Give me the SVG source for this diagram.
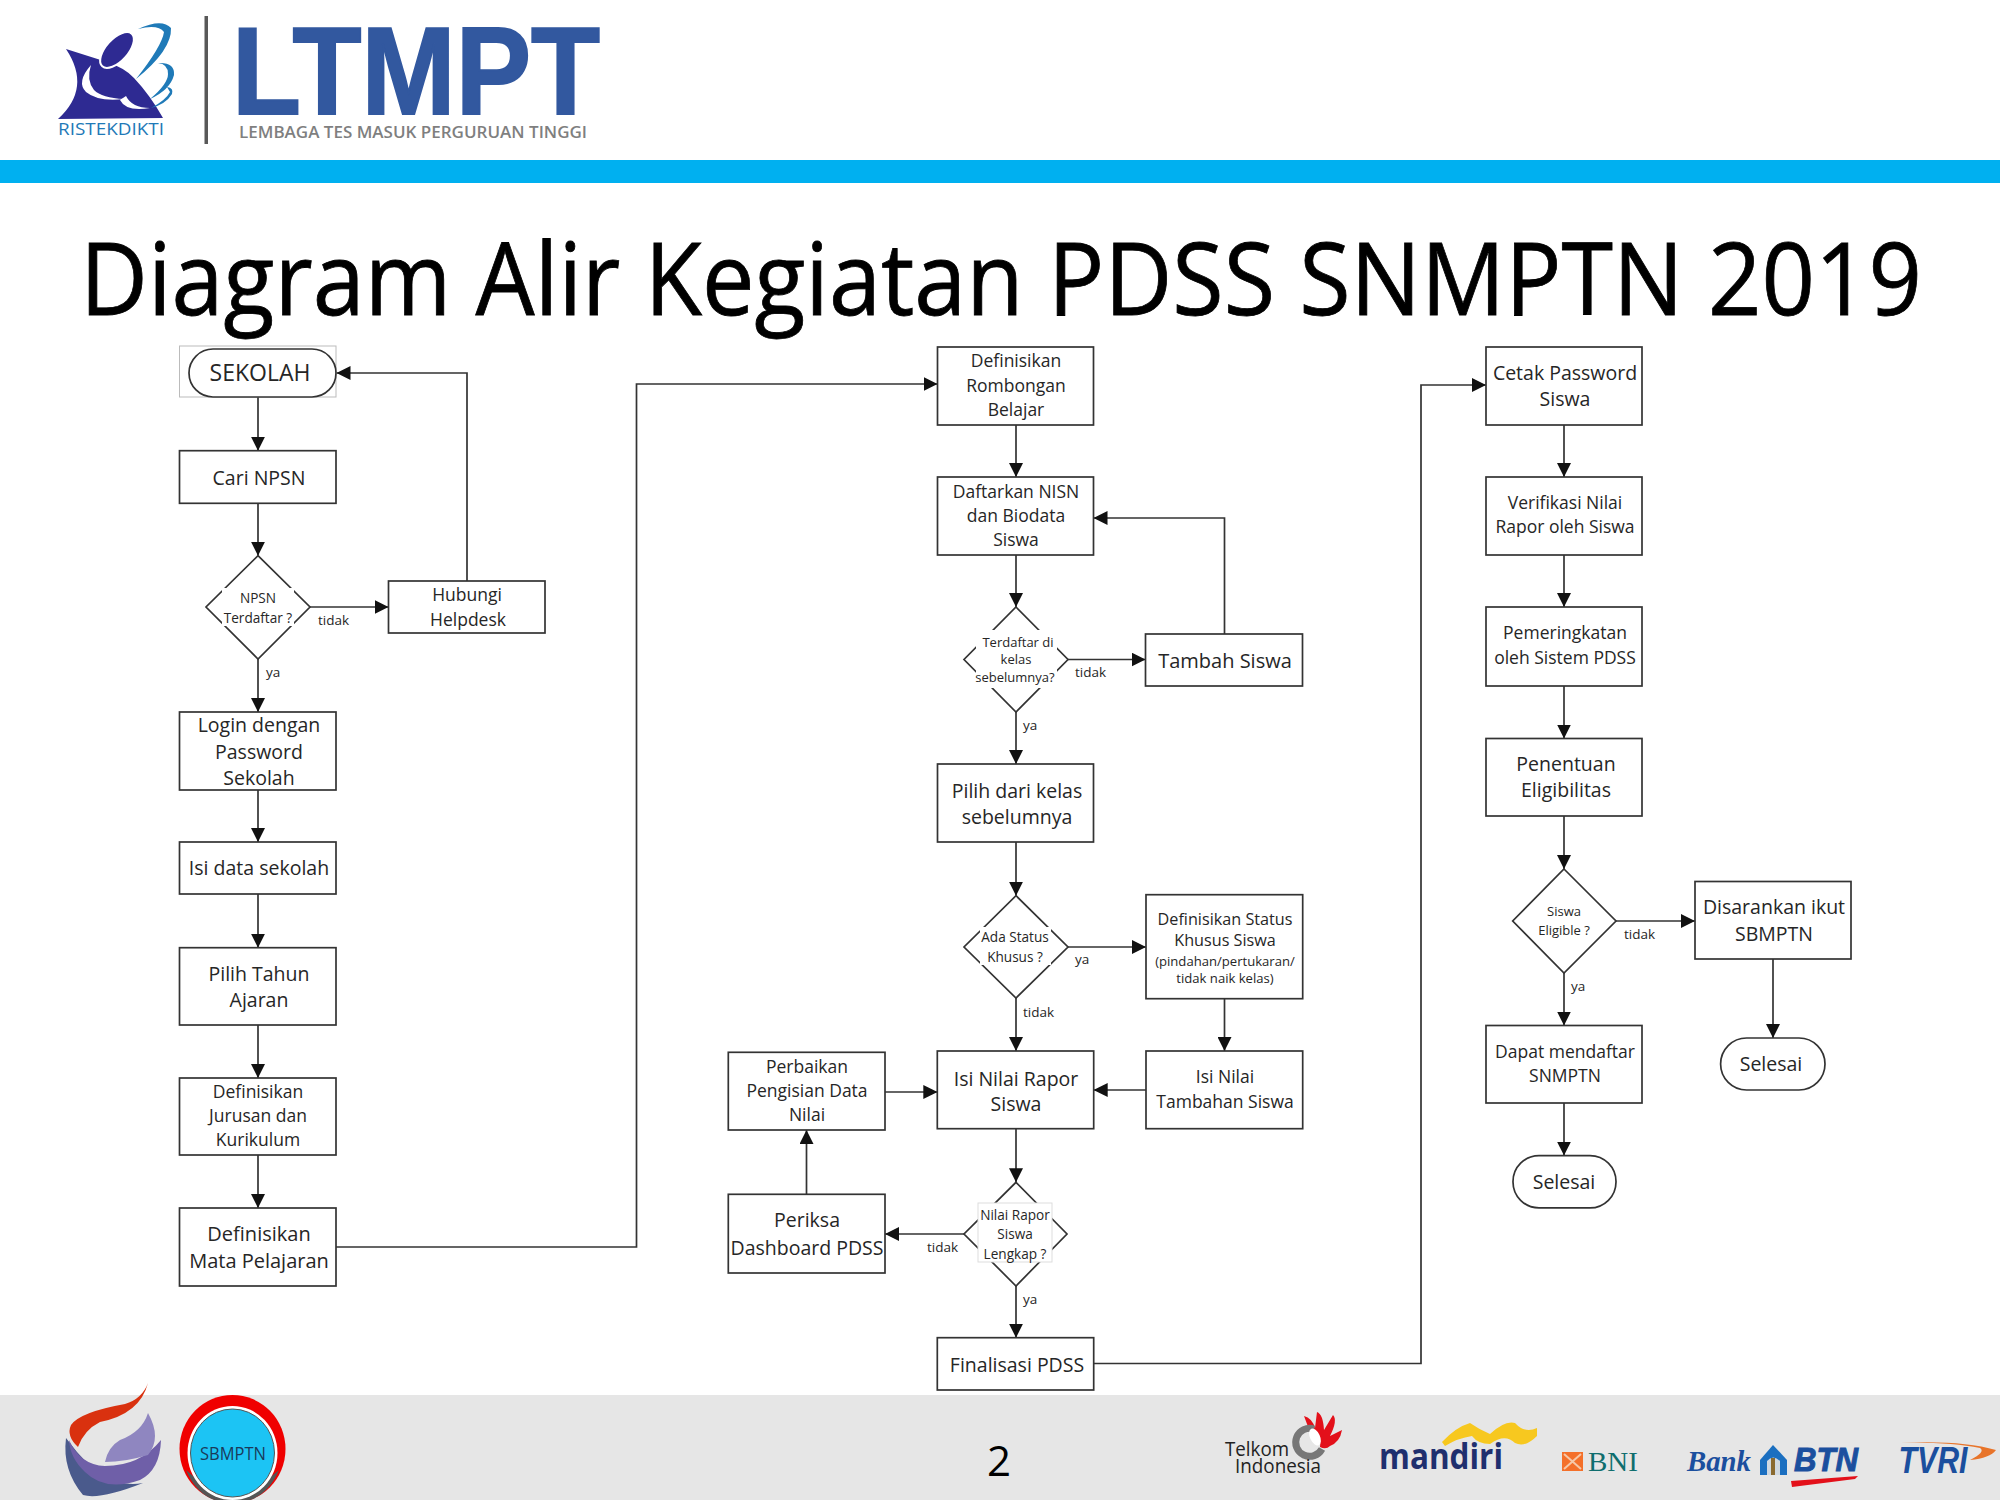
<svg xmlns="http://www.w3.org/2000/svg" width="2000" height="1500" viewBox="0 0 2000 1500">
<style>
text{font-family:"Open Sans","Lato",sans-serif;fill:#262626;text-anchor:middle;font-variant-ligatures:none}
.s{fill:#fff;stroke:#333;stroke-width:1.7}
.c{fill:none;stroke:#333;stroke-width:1.7;marker-end:url(#a)}
.w{fill:#fff}
.f24{font-size:23px}.f22{font-size:20px}.f21{font-size:19.5px}.f19{font-size:17.5px}.f17{font-size:16.2px}.f16{font-size:13.1px}.f15{font-size:13.6px}.f14{font-size:13px}
.l{font-size:13.500px;text-anchor:start}
</style>
<defs><marker id="a" markerUnits="userSpaceOnUse" markerWidth="14" markerHeight="14" refX="14" refY="7" orient="auto"><path d="M0,0L14,7L0,14z" fill="#111"/></marker></defs>
<rect width="2000" height="1500" fill="#fff"/>
<g id="header">
<path d="M66,49L107,62Q125,68 134,78Q150,95 163,118L58,119Q92,88 66,49z" fill="#2e2a92"/>
<ellipse cx="117" cy="50" rx="11" ry="22" transform="rotate(42 117 50)" fill="#2e2a92" stroke="#fff" stroke-width="2"/>
<path d="M91,65Q76,82 86,92Q98,102 124,99Q102,98 94,90Q86,80 91,65zM120,100Q126,112 150,108Q132,108 126,96z" fill="#fff"/>
<path d="M138,29Q162,18 171,28Q172,50 136,79Q162,46 164,32Q158,24 138,29z" fill="#1f7ab8"/>
<path d="M158,63Q175,62 174,75Q170,90 150,99Q168,84 168,74Q168,64 158,63z" fill="#1f7ab8"/>
<path d="M167,87Q174,88 172,94Q166,104 151,108Q166,100 170,92z" fill="#1f7ab8"/>
<text x="111" y="135" font-size="17" style="fill:#1f7ab8" textLength="106" lengthAdjust="spacingAndGlyphs">RISTEKDIKTI</text>
<rect x="204.500" y="16" width="3.500" height="128" fill="#595959"/>
<text x="416" y="114" font-size="125" font-weight="700" textLength="368" lengthAdjust="spacingAndGlyphs" style="font-family:'Liberation Sans',sans-serif;fill:#32589f;stroke:#32589f;stroke-width:2">LTMPT</text>
<text x="413" y="138" font-size="16" font-weight="600" textLength="348" lengthAdjust="spacingAndGlyphs" style="fill:#7f7f7f">LEMBAGA TES MASUK PERGURUAN TINGGI</text>
<rect y="160" width="2000" height="23" fill="#00b0f0"/>
</g>
<text id="title" x="1001" y="315" font-size="100" textLength="1842" lengthAdjust="spacingAndGlyphs" style="fill:#000;stroke:#000;stroke-width:.8">Diagram Alir Kegiatan PDSS SNMPTN 2019</text>
<g id="footer">
<rect y="1395" width="2000" height="105" fill="#e6e6e6"/>
<path d="M66,1438Q62,1470 83,1495Q100,1500 143,1483Q110,1490 77,1452z" fill="#4a5a8c"/>
<path d="M69,1440Q80,1465 105,1466Q140,1466 161,1440Q160,1470 140,1480Q105,1492 85,1472Q70,1458 69,1440z" fill="#6f5fa8"/>
<path d="M148,1413Q162,1438 148,1455Q125,1462 105,1462Q108,1447 120,1440Q142,1432 148,1413z" fill="#8f86c0"/>
<path d="M148,1383Q142,1399 125,1404Q80,1412 71,1425Q66,1436 78,1447Q84,1430 100,1422Q140,1414 148,1383z" fill="#d9310f"/>
<ellipse cx="232.500" cy="1449" rx="53" ry="54" fill="#f00000"/>
<path d="M186,1470Q200,1503 232,1503Q265,1503 279,1470Q232,1512 186,1470z" fill="#555"/>
<ellipse cx="232.500" cy="1453" rx="45" ry="47" fill="#fff"/>
<ellipse cx="232.500" cy="1453" rx="42" ry="44" fill="#1cc4f4" stroke="#555" stroke-width="1"/>
<text x="233" y="1460" font-size="19" textLength="66" lengthAdjust="spacingAndGlyphs" style="fill:#1a3a5a">SBMPTN</text>
<text x="999" y="1476" font-size="42" style="fill:#000">2</text>
<path d="M1310,1432L1304,1416Q1312,1418 1315,1428L1317,1412Q1323,1414 1324,1430L1333,1415Q1338,1420 1330,1436L1342,1430Q1340,1442 1330,1446Q1326,1450 1320,1447Q1322,1436 1310,1432z" fill="#e3101a"/>
<path d="M1314,1429A14,14 0 1 0 1322,1449" fill="none" stroke="#777" stroke-width="7"/>
<ellipse cx="1315" cy="1437" rx="5" ry="9" fill="#fff" transform="rotate(-25 1315 1437)"/>
<text x="1257" y="1456" font-size="20" textLength="64" lengthAdjust="spacingAndGlyphs" style="fill:#222">Telkom</text>
<text x="1278" y="1473" font-size="20" textLength="86" lengthAdjust="spacingAndGlyphs" style="fill:#222">Indonesia</text>
<path d="M1442,1442Q1456,1427 1470,1423Q1480,1430 1490,1434Q1505,1420 1515,1423Q1525,1434 1537,1428L1537,1436Q1525,1448 1515,1443Q1505,1433 1490,1444Q1478,1444 1472,1436Q1458,1438 1445,1446z" fill="#f7c81f"/>
<text x="1441" y="1469" font-size="36" font-weight="700" textLength="124" lengthAdjust="spacingAndGlyphs" style="fill:#1f2f6e">mandiri</text>
<rect x="1562" y="1452" width="21" height="19" fill="#f4702a"/>
<path d="M1564,1454L1581,1469M1581,1454L1564,1469" stroke="#f6c8a8" stroke-width="2" fill="none"/>
<text x="1613" y="1471" font-size="27" textLength="50" lengthAdjust="spacingAndGlyphs" style="font-family:'Liberation Serif',serif;fill:#0f6e6e">BNI</text>
<text x="1719" y="1471" font-size="30" font-style="italic" font-weight="700" textLength="64" lengthAdjust="spacingAndGlyphs" style="font-family:'Liberation Serif',serif;fill:#1b4f9e">Bank</text>
<path d="M1760,1460L1773,1445L1787,1460L1787,1475L1760,1475z" fill="#1b6fc0"/>
<path d="M1767,1475V1461Q1773,1454 1780,1461V1475z" fill="#d0d8e0"/>
<path d="M1773,1458V1475" stroke="#8a6a30" stroke-width="4" fill="none"/>
<text x="1826" y="1471" font-size="33" font-weight="700" font-style="italic" textLength="64" lengthAdjust="spacingAndGlyphs" style="font-family:'Liberation Sans',sans-serif;fill:#1b4f9e;stroke:#1b4f9e;stroke-width:1">BTN</text>
<path d="M1791,1481L1858,1476L1855,1479L1792,1487z" fill="#e3101a"/>
<text x="1933" y="1473" font-size="36" font-weight="700" font-style="italic" textLength="69" lengthAdjust="spacingAndGlyphs" style="font-family:'Liberation Sans',sans-serif;fill:#1b4f9e">TVRI</text>
<path d="M1901,1443Q1960,1440 1996,1450Q1990,1458 1970,1460Q1986,1452 1980,1448Q1950,1442 1901,1443z" fill="#e8742a"/>
</g>
<g id="connectors">
<path class="c" d="M258,397V450.700"/>
<path class="c" d="M258,503.300V555.700"/>
<path class="c" d="M310,607H388.500"/>
<path class="c" d="M467,581V373H336.500"/>
<path class="c" d="M258,659V712"/>
<path class="c" d="M258,790V842"/>
<path class="c" d="M258,894V947.700"/>
<path class="c" d="M258,1025V1078"/>
<path class="c" d="M258,1155V1208"/>
<path class="c" d="M336,1247H636.500V384H937.500"/>
<path class="c" d="M1016,425V477"/>
<path class="c" d="M1016,555V607"/>
<path class="c" d="M1068,659.500H1145.500"/>
<path class="c" d="M1224.500,634V518H1093.500"/>
<path class="c" d="M1016,712V764"/>
<path class="c" d="M1016,842V895.700"/>
<path class="c" d="M1068,947H1146"/>
<path class="c" d="M1224.500,998.700V1051"/>
<path class="c" d="M1146,1090H1093.700"/>
<path class="c" d="M1016,998V1051"/>
<path class="c" d="M885,1092H937.300"/>
<path class="c" d="M1016,1128.700V1182.300"/>
<path class="c" d="M964,1234H885"/>
<path class="c" d="M806.500,1194.300V1130"/>
<path class="c" d="M1016,1286V1337.700"/>
<path class="c" d="M1093.700,1363.500H1421V385H1486"/>
<path class="c" d="M1564,425V477"/>
<path class="c" d="M1564,555V607"/>
<path class="c" d="M1564,686V738.500"/>
<path class="c" d="M1564,816V869"/>
<path class="c" d="M1616,921H1695"/>
<path class="c" d="M1564,973V1025.500"/>
<path class="c" d="M1564,1103V1155.600"/>
<path class="c" d="M1773,959V1038"/>
</g>
<g id="edge-labels">
<text class="l" x="318" y="625">tidak</text><text class="l" x="266" y="677">ya</text>
<text class="l" x="1075" y="677">tidak</text><text class="l" x="1023" y="730">ya</text>
<text class="l" x="1075" y="964">ya</text><text class="l" x="1023" y="1017">tidak</text>
<text class="l" x="927" y="1252">tidak</text><text class="l" x="1023" y="1304">ya</text>
<text class="l" x="1624" y="939">tidak</text><text class="l" x="1571" y="991">ya</text>
</g>
<g id="n-sekolah"><rect x="179.500" y="346" width="156.500" height="51" fill="#fff" stroke="#bbb" stroke-width="1"/><rect class="s" x="189" y="349" width="147" height="48" rx="24"/><text class="f24" x="260" y="381">SEKOLAH</text></g>
<g id="n-cari"><rect class="s" x="179.500" y="450.700" width="156.500" height="52.600"/><text class="f21" x="259" y="485">Cari NPSN</text></g>
<g id="n-npsn"><path class="s" d="M258,555.700L310,607L258,659L206,607z"/><rect class="w" x="222" y="588" width="72" height="38"/><text class="f15" x="258" y="603">NPSN</text><text class="f15" x="258" y="623">Terdaftar ?</text></g>
<g id="n-hubungi"><rect class="s" x="388.500" y="581" width="156.500" height="52"/><text class="f19" x="467" y="601">Hubungi</text><text class="f19" x="468" y="626">Helpdesk</text></g>
<g id="n-login"><rect class="s" x="179.500" y="712" width="156.500" height="78"/><text class="f21" x="259" y="732">Login dengan</text><text class="f21" x="259" y="759">Password</text><text class="f21" x="259" y="785">Sekolah</text></g>
<g id="n-isidata"><rect class="s" x="179.500" y="842" width="156.500" height="52"/><text class="f21" x="259" y="875">Isi data sekolah</text></g>
<g id="n-tahun"><rect class="s" x="179.500" y="947.700" width="156.500" height="77.300"/><text class="f21" x="259" y="981">Pilih Tahun</text><text class="f21" x="259" y="1007">Ajaran</text></g>
<g id="n-jurusan"><rect class="s" x="179.500" y="1078" width="156.500" height="77"/><text class="f19" x="258" y="1098">Definisikan</text><text class="f19" x="258" y="1122">Jurusan dan</text><text class="f19" x="258" y="1146">Kurikulum</text></g>
<g id="n-mapel"><rect class="s" x="179.500" y="1208" width="156.500" height="78"/><text class="f22" x="259" y="1241">Definisikan</text><text class="f22" x="259" y="1268">Mata Pelajaran</text></g>
<g id="n-rombel"><rect class="s" x="937.500" y="347" width="156" height="78"/><text class="f19" x="1016" y="367">Definisikan</text><text class="f19" x="1016" y="392">Rombongan</text><text class="f19" x="1016" y="416">Belajar</text></g>
<g id="n-nisn"><rect class="s" x="937.500" y="477" width="156" height="78"/><text class="f19" x="1016" y="498">Daftarkan NISN</text><text class="f19" x="1016" y="522">dan Biodata</text><text class="f19" x="1016" y="546">Siswa</text></g>
<g id="n-terdaftar"><path class="s" d="M1016,607L1068,659.500L1016,712L964,659.500z"/><rect class="w" x="976" y="630" width="81" height="58"/><text class="f14" x="1018" y="647">Terdaftar di</text><text class="f14" x="1016" y="664">kelas</text><text class="f14" x="1015" y="682">sebelumnya?</text></g>
<g id="n-tambah"><rect class="s" x="1145.500" y="634" width="157" height="52"/><text class="f22" x="1225" y="668">Tambah Siswa</text></g>
<g id="n-pilih"><rect class="s" x="937.500" y="764" width="156" height="78"/><text class="f21" x="1017" y="798">Pilih dari kelas</text><text class="f21" x="1017" y="824">sebelumnya</text></g>
<g id="n-status"><path class="s" d="M1016,895.700L1068,947L1016,998L964,947z"/><rect class="w" x="980" y="927" width="71" height="38"/><text class="f15" x="1015" y="942">Ada Status</text><text class="f15" x="1015" y="962">Khusus ?</text></g>
<g id="n-defstatus"><rect class="s" x="1146" y="894.700" width="156.700" height="104"/><text class="f17" x="1225" y="925">Definisikan Status</text><text class="f17" x="1225" y="946">Khusus Siswa</text><text class="f16" x="1225" y="966">(pindahan/pertukaran/</text><text class="f16" x="1225" y="983">tidak naik kelas)</text></g>
<g id="n-tambahan"><rect class="s" x="1146" y="1051" width="156.700" height="77.700"/><text class="f19" x="1225" y="1083">Isi Nilai</text><text class="f19" x="1225" y="1108">Tambahan Siswa</text></g>
<g id="n-rapor"><rect class="s" x="937.300" y="1051" width="156.400" height="77.700"/><text class="f21" x="1016" y="1086">Isi Nilai Rapor</text><text class="f21" x="1016" y="1111">Siswa</text></g>
<g id="n-perbaikan"><rect class="s" x="728.300" y="1052.300" width="156.700" height="77.700"/><text class="f19" x="807" y="1073">Perbaikan</text><text class="f19" x="807" y="1097">Pengisian Data</text><text class="f19" x="807" y="1121">Nilai</text></g>
<g id="n-periksa"><rect class="s" x="728.300" y="1194.300" width="156.700" height="78.700"/><text class="f21" x="807" y="1227">Periksa</text><text class="f21" x="807" y="1255">Dashboard PDSS</text></g>
<g id="n-lengkap"><path class="s" d="M1016,1182.300L1067,1234L1016,1286L964,1234z"/><rect x="978" y="1203" width="74" height="59" fill="#fff" stroke="#ddd" stroke-width="1"/><text class="f15" x="1015" y="1220">Nilai Rapor</text><text class="f15" x="1015" y="1239">Siswa</text><text class="f15" x="1015" y="1259">Lengkap ?</text></g>
<g id="n-final"><rect class="s" x="937.300" y="1337.700" width="156.400" height="52.300"/><text class="f21" x="1017" y="1372">Finalisasi PDSS</text></g>
<g id="n-cetak"><rect class="s" x="1486" y="347" width="156" height="78"/><text class="f21" x="1565" y="380">Cetak Password</text><text class="f21" x="1565" y="406">Siswa</text></g>
<g id="n-verif"><rect class="s" x="1486" y="477" width="156" height="78"/><text class="f19" x="1565" y="509">Verifikasi Nilai</text><text class="f19" x="1565" y="533">Rapor oleh Siswa</text></g>
<g id="n-peringkat"><rect class="s" x="1486" y="607" width="156" height="79"/><text class="f19" x="1565" y="639">Pemeringkatan</text><text class="f19" x="1565" y="664">oleh Sistem PDSS</text></g>
<g id="n-eligibilitas"><rect class="s" x="1486" y="738.500" width="156" height="77.500"/><text class="f21" x="1566" y="771">Penentuan</text><text class="f21" x="1566" y="797">Eligibilitas</text></g>
<g id="n-eligible"><path class="s" d="M1564,869L1616,921L1564,973L1512.700,921z"/><text class="f14" x="1564" y="916">Siswa</text><text class="f14" x="1564" y="935">Eligible ?</text></g>
<g id="n-disarankan"><rect class="s" x="1695" y="881.500" width="156" height="77.500"/><text class="f21" x="1774" y="914">Disarankan ikut</text><text class="f21" x="1774" y="941">SBMPTN</text></g>
<g id="n-dapat"><rect class="s" x="1486" y="1025.500" width="156" height="77.500"/><text class="f19" x="1565" y="1058">Dapat mendaftar</text><text class="f19" x="1565" y="1082">SNMPTN</text></g>
<g id="n-selesai1"><rect class="s" x="1513" y="1155.600" width="103" height="52.300" rx="26"/><text class="f21" x="1564" y="1189">Selesai</text></g>
<g id="n-selesai2"><rect class="s" x="1720.600" y="1038" width="104.400" height="52" rx="26"/><text class="f21" x="1771" y="1071">Selesai</text></g>
</svg>
